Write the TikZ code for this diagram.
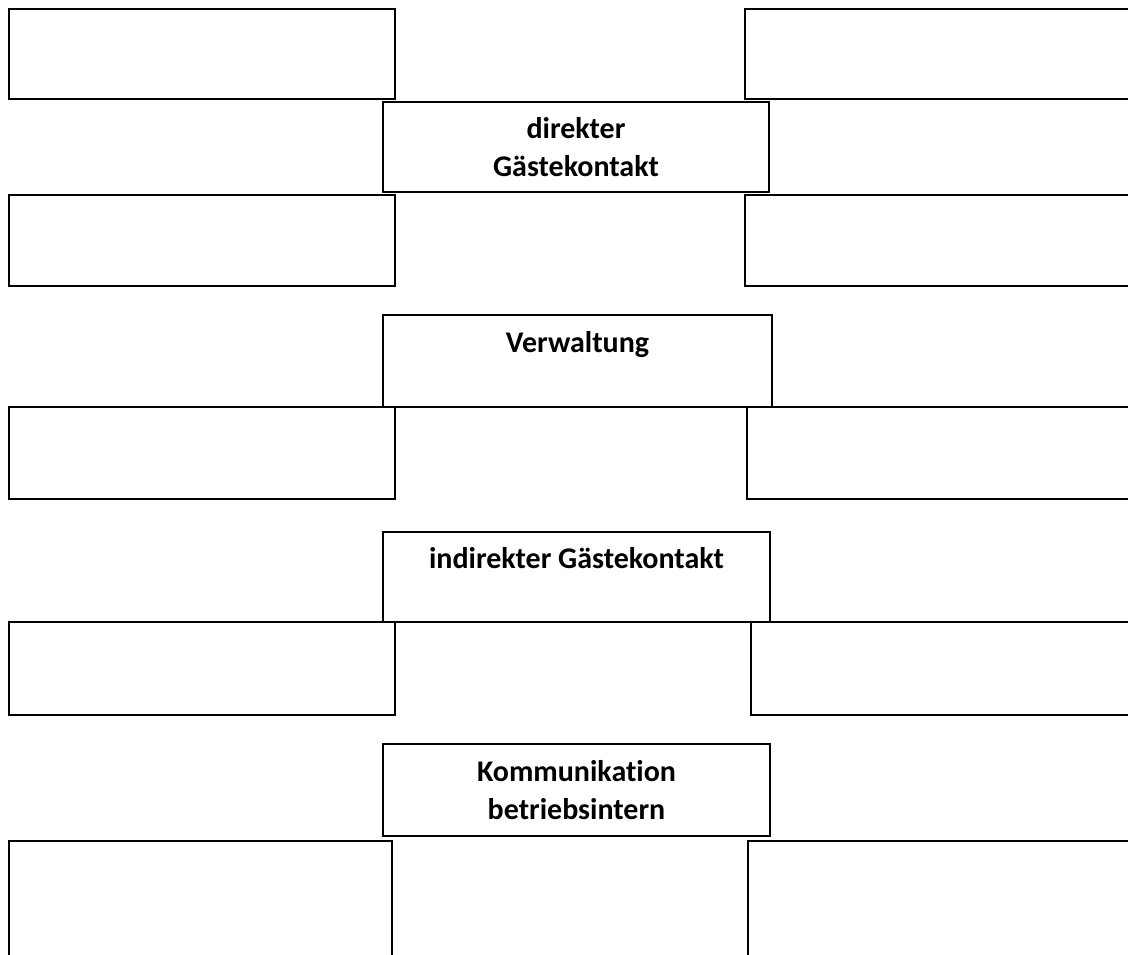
\documentclass[tikz,border=0pt]{standalone}
\usepackage{fontspec}
\setmainfont{Carlito}[Ligatures=NoCommon]
\usetikzlibrary{fit}
\begin{document}
\begin{tikzpicture}[x=0.75pt,y=-0.75pt,
  sidebox/.style={draw=black, line width=1.5pt, inner sep=0pt, fill=white},
  centerbox/.style={draw=black, line width=1.5pt, inner sep=0pt, fill=white},
  label/.style={align=center, font=\bfseries\fontsize{22.5}{28.5}\selectfont}]
\useasboundingbox (0,0) rectangle (1128,955);
\clip (0,0) rectangle (1128,955);
% side boxes
\node[sidebox, fit={(9,9) (395,99)}] (l1) {};
\node[sidebox, fit={(745,9) (1150,99)}] (r1) {};
\node[sidebox, fit={(9,195) (395,286)}] (l2) {};
\node[sidebox, fit={(745,195) (1150,286)}] (r2) {};
\node[sidebox, fit={(9,407) (395,499)}] (l3) {};
\node[sidebox, fit={(747,407) (1150,499)}] (r3) {};
\node[sidebox, fit={(9,622) (395,715)}] (l4) {};
\node[sidebox, fit={(751,622) (1150,715)}] (r4) {};
\node[sidebox, fit={(9,841) (392,980)}] (l5) {};
\node[sidebox, fit={(748,841) (1150,980)}] (r5) {};
% centre boxes
\node[centerbox, fit={(383,102) (769,192)}] (c1) {};
\node[label] at (c1.center) (t1) {direkter\\Gästekontakt};
\node[centerbox, fit={(383,315) (772,407)}] (c2) {};
\node[label] at (c2.center) (t2) {Verwaltung\\\mbox{}};
\node[centerbox, fit={(383,532) (770,622)}] (c3) {};
\node[label] at (c3.center) (t3) {indirekter Gästekontakt\\\mbox{}};
\node[centerbox, fit={(383,744) (770,836)}] (c4) {};
\node[label] at (c4.center) (t4) {Kommunikation\\betriebsintern};
\end{tikzpicture}
\end{document}
